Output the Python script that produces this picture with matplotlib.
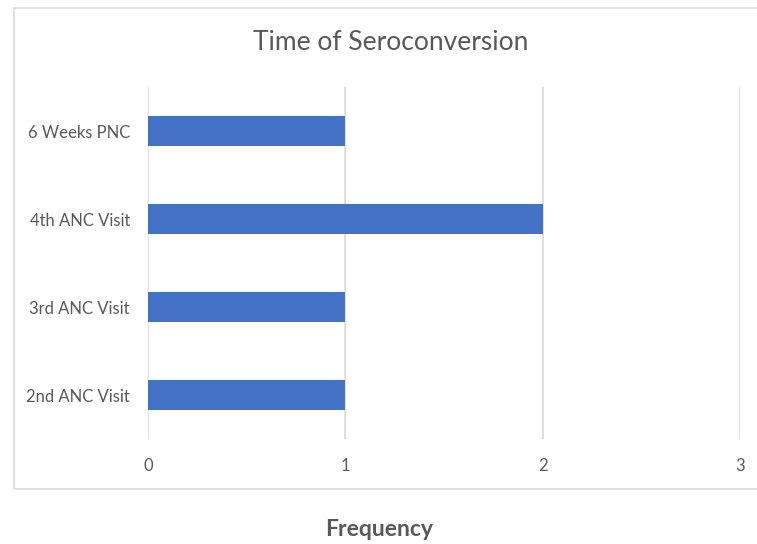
import matplotlib.pyplot as plt
from matplotlib.patches import Rectangle

categories = ['2nd ANC Visit', '3rd ANC Visit', '4th ANC Visit', '6 Weeks PNC']
frequency = [1, 1, 2, 1]
x_ticks = [0, 1, 2, 3]

W, H = 757, 544
plt.rcParams['font.family'] = ['Lato', 'DejaVu Sans']
text_color = '#595959'
grid_color = '#d9d9d9'

fig = plt.figure(figsize=(W / 100, H / 100), dpi=100)

# outer chart border
fig.patches.append(Rectangle((14 / W, 1 - 489 / H), (W + 10 - 14) / W, (489 - 8) / H,
                             transform=fig.transFigure, fill=False,
                             edgecolor=grid_color, linewidth=1.2))

ax = fig.add_axes([148 / W, 1 - 439 / H, (740 - 148) / W, (439 - 87) / H])
ax.barh(range(len(categories)), frequency, height=0.35, color='#4472C4', zorder=3)

ax.set_xlim(0, 3)
ax.set_ylim(-0.5, len(categories) - 0.5)
ax.set_xticks(x_ticks)
ax.set_yticks(range(len(categories)))
ax.set_yticklabels(categories)
ax.grid(axis='x', color=grid_color, linewidth=1.2, zorder=0)
ax.grid(axis='y', visible=False)
for s in ax.spines.values():
    s.set_visible(False)
ax.tick_params(axis='both', length=0, labelsize=12, labelcolor=text_color)
ax.tick_params(axis='y', pad=13)
ax.tick_params(axis='x', pad=14)

fig.text(391 / W, 1 - 43 / H, 'Time of Seroconversion', ha='center', va='center',
         fontsize=19, color=text_color)
fig.text(379 / W, 1 - 530 / H, 'Frequency', ha='center', va='center',
         fontsize=16.5, fontweight='bold', color=text_color)

fig.savefig('out.png', dpi=100)
